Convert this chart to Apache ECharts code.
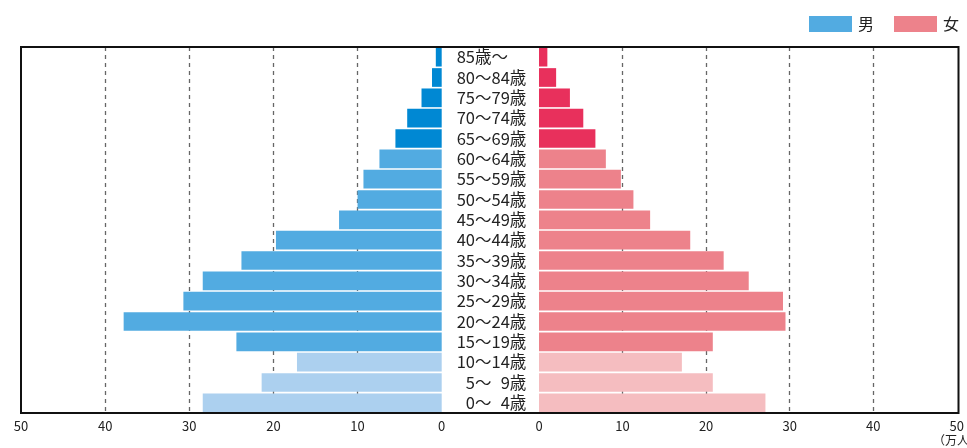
<!DOCTYPE html>
<html>
<head>
<meta charset="utf-8">
<script src="https://cdn.jsdelivr.net/npm/echarts@6/dist/echarts.min.js"></script>
<style>
html,body{margin:0;padding:0;background:#fff;}
#chart{width:967px;height:448px;}
</style>
</head>
<body>
<div id="chart"></div>
<script>
// Age groups, bottom (youngest) to top (oldest)
const ageLabels = ['0～ 4歳','5～ 9歳','10～14歳','15～19歳','20～24歳','25～29歳','30～34歳','35～39歳','40～44歳','45～49歳','50～54歳','55～59歳','60～64歳','65～69歳','70～74歳','75～79歳','80～84歳','85歳～'];
const ageGroup = ['young','young','young','work','work','work','work','work','work','work','work','work','work','old','old','old','old','old'];
// Population, 万人
const male   = [28.4, 21.4, 17.2, 24.4, 37.8, 30.7, 28.4, 23.8, 19.7, 12.2, 10.0, 9.3, 7.4, 5.5, 4.1, 2.4, 1.15, 0.7];
const female = [27.1, 20.8, 17.1, 20.8, 29.5, 29.2, 25.1, 22.1, 18.1, 13.3, 11.3, 9.8, 8.0, 6.75, 5.3, 3.7, 2.05, 1.0];
const xTicks = [0, 10, 20, 30, 40, 50];
const seriesNames = ['男', '女'];

const palette = {
  '男': {young:'#acd0ef', work:'#52abe1', old:'#0088d3'},
  '女': {young:'#f5bdc0', work:'#ed828b', old:'#e8305c'}
};
const FONT = '"Noto Sans CJK JP", "Noto Sans", sans-serif';

function items(vals, sex){
  return vals.map((v,i)=>({value:v, itemStyle:{color:palette[sex][ageGroup[i]]}}));
}

const L = 21, R = 967-959, TOP = 47, H = 366;
const GW = 420.7;

const xCommon = {
  type:'value', min:xTicks[0], max:xTicks[xTicks.length-1], interval:10,
  axisLine:{show:false}, axisTick:{show:false},
  axisLabel:{color:'#222', fontSize:13, fontFamily:FONT, margin:7},
  splitLine:{show:true, showMinLine:false, showMaxLine:false,
    lineStyle:{color:'#666', width:1.3, type:[4,4]}}
};

const chart = echarts.init(document.getElementById('chart'));
chart.setOption({
  animation:false,
  textStyle:{fontFamily:FONT},
  legend:{
    data:seriesNames, right:8, top:16, padding:0,
    itemWidth:43, itemHeight:16, itemGap:20, icon:'rect',
    textStyle:{fontSize:16, color:'#222', fontFamily:FONT, padding:[0,0,0,1]}
  },
  grid:[
    {left:L, top:TOP, width:GW, height:H},
    {left:539, top:TOP, right:R, height:H}
  ],
  xAxis:[
    Object.assign({gridIndex:0, inverse:true}, xCommon),
    Object.assign({gridIndex:1}, xCommon)
  ],
  yAxis:[
    {type:'category', gridIndex:0, data:ageLabels, position:'right',
     axisLine:{show:false}, axisTick:{show:false},
     axisLabel:{show:true, interval:0, hideOverlap:false, align:'left', margin:15, fontSize:16.5, lineHeight:18,
       color:'#222', fontFamily:FONT,
       formatter:function(v){ return (/^\d～/.test(v) ? '\u2007' : '') + v.replace(' ', '\u2007'); }}},
    {type:'category', gridIndex:1, data:ageLabels,
     axisLine:{show:false}, axisTick:{show:false}, axisLabel:{show:false}}
  ],
  series:[
    {name:seriesNames[0], type:'bar', xAxisIndex:0, yAxisIndex:0, data:items(male,'男'),
     barCategoryGap:'8%', itemStyle:{color:palette['男'].work}},
    {name:seriesNames[1], type:'bar', xAxisIndex:1, yAxisIndex:1, data:items(female,'女'),
     barCategoryGap:'8%', itemStyle:{color:palette['女'].work}}
  ],
  graphic:[
    {type:'rect', shape:{x:21, y:47, width:937.5, height:366}, z:100,
     style:{fill:null, stroke:'#111', lineWidth:2}},
    {type:'text', x:933, y:434, z:100,
     style:{text:'（万人）', fontSize:12, fill:'#222', fontFamily:FONT}}
  ]
});
</script>
</body>
</html>
